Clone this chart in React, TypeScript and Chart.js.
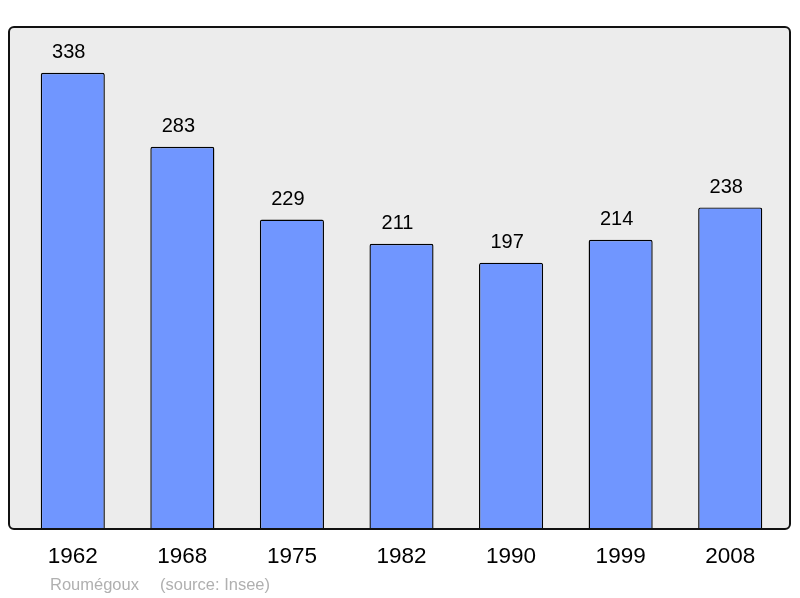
import { useEffect, useRef } from "react"
import { Chart, registerables } from "chart.js"

Chart.register(...registerables)

const years = ["1962", "1968", "1975", "1982", "1990", "1999", "2008"]
const population = [338, 283, 229, 211, 197, 214, 238]
const townName = "Roumégoux"
const sourceText = "(source: Insee)"

const FONT = "'Liberation Sans', Arial, sans-serif"

// grey rounded frame behind the bars
const framePlugin = {
  id: "frame",
  beforeDatasetsDraw(chart: Chart) {
    const { ctx } = chart
    ctx.save()
    ctx.beginPath()
    ctx.roundRect(9, 27, 781, 502, 5)
    ctx.fillStyle = "#ececec"
    ctx.fill()
    ctx.restore()
  },
  afterDatasetsDraw(chart: Chart) {
    const { ctx } = chart
    ctx.save()
    ctx.beginPath()
    ctx.roundRect(9, 27, 781, 502, 5)
    ctx.lineWidth = 2
    ctx.strokeStyle = "#111"
    ctx.stroke()
    ctx.restore()
  },
}

// value labels, year labels and footer
const labelsPlugin = {
  id: "labels",
  afterDraw(chart: Chart) {
    const { ctx } = chart
    const x = chart.scales.x
    const y = chart.scales.y
    ctx.save()
    ctx.fillStyle = "#000"
    ctx.textAlign = "center"
    ctx.textBaseline = "middle"
    ctx.font = `20px ${FONT}`
    population.forEach((v, i) => {
      ctx.fillText(String(v), x.getPixelForValue(i) - 4, y.getPixelForValue(v) - 20)
    })
    ctx.font = `22.5px ${FONT}`
    years.forEach((yr, i) => {
      ctx.fillText(yr, x.getPixelForValue(i), 557)
    })
    ctx.font = `16.5px ${FONT}`
    ctx.fillStyle = "#b0b0b0"
    ctx.textAlign = "left"
    ctx.fillText(townName, 50, 585)
    ctx.fillText(sourceText, 160, 585)
    ctx.restore()
  },
}

export default function App() {
  const canvasRef = useRef<HTMLCanvasElement>(null)
  const chartRef = useRef<Chart | null>(null)

  useEffect(() => {
    document.body.style.margin = "0"
    if (!canvasRef.current) return
    if (chartRef.current) chartRef.current.destroy()

    chartRef.current = new Chart(canvasRef.current, {
      type: "bar",
      data: {
        labels: years,
        datasets: [
          {
            data: population,
            backgroundColor: "rgb(112, 150, 255)",
            borderColor: "#000",
            borderWidth: 1.4,
            borderRadius: 2,
            borderSkipped: "bottom",
            barPercentage: 0.585,
            categoryPercentage: 1,
          },
        ],
      },
      options: {
        animation: false,
        responsive: true,
        maintainAspectRatio: false,
        layout: { padding: { left: 18, right: 15, top: 27, bottom: 70 } },
        scales: {
          x: { display: false },
          y: { display: false, min: 0, max: 372 },
        },
        plugins: {
          legend: { display: false },
          tooltip: { enabled: false },
        },
      },
      plugins: [framePlugin, labelsPlugin],
    })

    return () => {
      if (chartRef.current) {
        chartRef.current.destroy()
        chartRef.current = null
      }
    }
  }, [])

  return (
    <div style={{ width: 800, height: 598 }}>
      <canvas ref={canvasRef}></canvas>
    </div>
  )
}
